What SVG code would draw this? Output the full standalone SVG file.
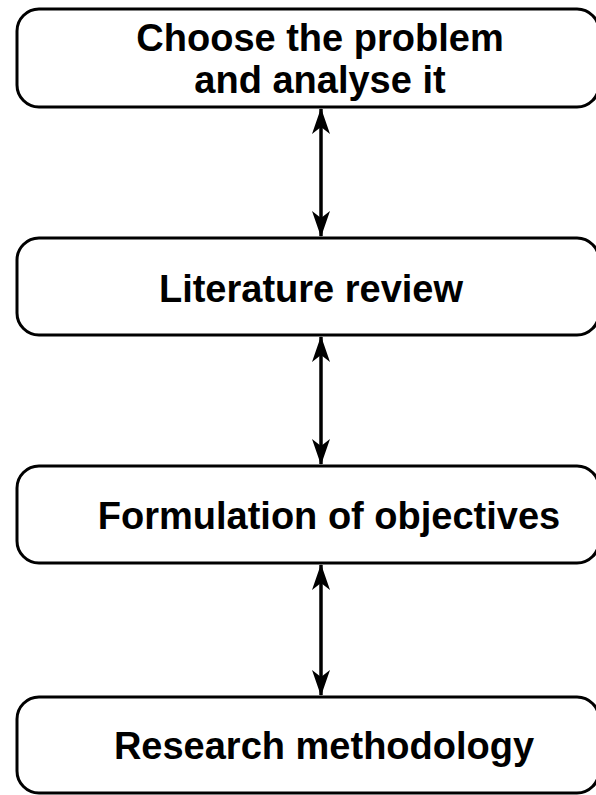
<svg xmlns="http://www.w3.org/2000/svg" width="596" height="795" viewBox="0 0 596 795">
<style>
.box{fill:#fff;stroke:#000;stroke-width:3}
.lbl{font-family:"Liberation Sans",Arial,sans-serif;font-weight:bold;font-size:38px;fill:#000;text-anchor:middle}
.conn{stroke:#000;stroke-width:3.5;fill:none;marker-start:url(#ah);marker-end:url(#ah)}
</style>
<defs>
<marker id="ah" viewBox="0 0 26 18" refX="25" refY="9" markerWidth="26" markerHeight="18" markerUnits="userSpaceOnUse" orient="auto-start-reverse">
<path d="M0,0 L26,9 L0,18 L7,9 Z" fill="#000"/>
</marker>
</defs>
<rect width="596" height="795" fill="#fff"/>
<g id="connectors">
<line class="conn" x1="321" y1="109" x2="321" y2="236"/>
<line class="conn" x1="321" y1="337" x2="321" y2="464"/>
<line class="conn" x1="321" y1="565" x2="321" y2="695"/>
</g>
<g id="n1">
<rect class="box" x="17" y="9" width="582" height="98" rx="22"/>
<text class="lbl" x="320" y="51">Choose the problem</text>
<text class="lbl" x="320" y="93">and analyse it</text>
</g>
<g id="n2">
<rect class="box" x="17" y="238" width="582" height="97" rx="22"/>
<text class="lbl" x="311" y="302">Literature review</text>
</g>
<g id="n3">
<rect class="box" x="17" y="466" width="582" height="97" rx="22"/>
<text class="lbl" x="329" y="529">Formulation of objectives</text>
</g>
<g id="n4">
<rect class="box" x="17" y="697" width="582" height="96" rx="22"/>
<text class="lbl" x="324" y="759">Research methodology</text>
</g>
</svg>
